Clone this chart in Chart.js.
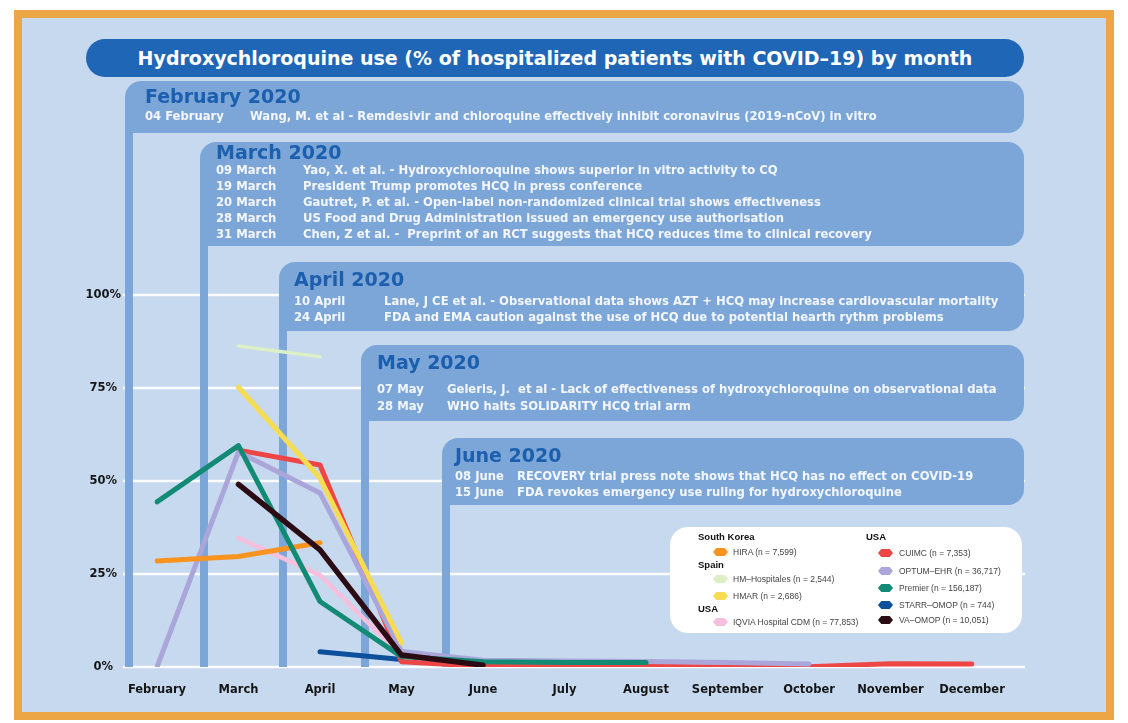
<!DOCTYPE html>
<html>
<head>
<meta charset="utf-8">
<script src="https://cdn.jsdelivr.net/npm/chart.js@4"></script>
<style>
  html, body { margin: 0; padding: 0; background: #fff; }
  #frame { position: absolute; left: 14px; top: 10px; width: 1100px; height: 710px; box-sizing: border-box;
           border: 8px solid #eca645; background: #c6d9ef; }
  #title { position: absolute; left: 86px; top: 39px; width: 938px; height: 38px; border-radius: 19px;
           background: #1f66b6; color: #fff; font: bold 19px "DejaVu Sans", sans-serif;
           text-align: center; line-height: 38px; white-space: nowrap; }
  #chart { position: absolute; left: 0; top: 0; }
  #legend { position: absolute; left: 670px; top: 527px; width: 352px; height: 106px; background: #fff;
            border-radius: 18px; font-family: "Liberation Sans", Arial, sans-serif; }
  #legend .hdr { position: absolute; font-weight: bold; font-size: 9.5px; color: #111; line-height: 12px; white-space: nowrap; }
  #legend .item { position: absolute; font-size: 8.5px; color: #444; line-height: 12px; white-space: nowrap; }
  #legend .mk { position: absolute; width: 15px; height: 8px;
                clip-path: polygon(22% 0, 78% 0, 100% 50%, 78% 100%, 22% 100%, 0 50%); }
</style>
</head>
<body>
<div id="frame"></div>
<div id="title">Hydroxychloroquine use (% of hospitalized patients with COVID–19) by month</div>
<canvas id="chart" width="1128" height="723"></canvas>
<div id="legend"></div>
<script>
// Months on the x axis
const months = ['February', 'March', 'April', 'May', 'June', 'July', 'August',
                'September', 'October', 'November', 'December'];
const yTicks = [0, 25, 50, 75, 100];

// Hydroxychloroquine use, % of hospitalized COVID-19 patients, per database (Feb..Dec)
const hira        = [28.5, 29.7, 33.4, null, null, null, null, null, null, null, null];
const hmHosp      = [null, 86.3, 83.4, null, null, null, null, null, null, null, null];
const hmar        = [null, 75.2, 50.8, 6.5, null, null, null, null, null, null, null];
const iqvia       = [null, 34.7, 24.7, 3.0, null, null, null, null, null, null, null];
const cuimc       = [null, 58.3, 54.3, 1.4, 0.2, 0.1, 0.2, 0.0, 0.1, 0.9, 0.8];
const optum       = [0.0, 57.8, 46.8, 4.2, 1.8, 1.6, 1.5, 1.2, 0.8, null, null];
const premier     = [44.4, 59.5, 17.6, 2.8, 1.4, 1.2, 1.2, null, null, null, null];
const starr       = [null, null, 4.1, 2.0, null, null, null, null, null, null, null];
const vaOmop      = [null, 49.1, 31.5, 3.2, 0.5, null, null, null, null, null, null];

const seriesNames = ['HIRA (n = 7,599)', 'HM–Hospitales (n = 2,544)', 'HMAR (n = 2,686)',
                     'IQVIA Hospital CDM (n = 77,853)', 'CUIMC (n = 7,353)', 'OPTUM–EHR (n = 36,717)',
                     'Premier (n = 156,187)', 'STARR–OMOP (n = 744)', 'VA–OMOP (n = 10,051)'];
const seriesValues = [hira, hmHosp, hmar, iqvia, cuimc, optum, premier, starr, vaOmop];
const seriesColors = ['#f7931e', '#dcefc6', '#f6dc52', '#f6bfdd', '#ee4545', '#aaa6da', '#128a74', '#0b4f9d', '#2b0b14'];
const seriesWidths = [5, 3.5, 5, 4.5, 5, 5, 5, 5, 5.5];
const seriesLayer  = [4, 8, 2, 7, 6, 5, 3, 9, 1];   // lower = drawn on top

// Legend grouping by country: [column, heading, series indices]
const legendGroups = [
  [0, 'South Korea', [0]],
  [0, 'Spain', [1, 2]],
  [0, 'USA', [3]],
  [1, 'USA', [4, 5, 6, 7, 8]]
];

// Timeline of key events
const eventHeads = ['February 2020', 'March 2020', 'April 2020', 'May 2020', 'June 2020'];
const eventDates = [
  ['04 February'],
  ['09 March', '19 March', '20 March', '28 March', '31 March'],
  ['10 April', '24 April'],
  ['07 May', '28 May'],
  ['08 June', '15 June']
];
const eventTexts = [
  ['Wang, M. et al - Remdesivir and chloroquine effectively inhibit coronavirus (2019-nCoV) in vitro'],
  ['Yao, X. et al. - Hydroxychloroquine shows superior in vitro activity to CQ',
   'President Trump promotes HCQ in press conference',
   'Gautret, P. et al. - Open-label non-randomized clinical trial shows effectiveness',
   'US Food and Drug Administration issued an emergency use authorisation',
   'Chen, Z et al. -  Preprint of an RCT suggests that HCQ reduces time to clinical recovery'],
  ['Lane, J CE et al. - Observational data shows AZT + HCQ may increase cardiovascular mortality',
   'FDA and EMA caution against the use of HCQ due to potential hearth rythm problems'],
  ['Geleris, J.  et al - Lack of effectiveness of hydroxychloroquine on observational data',
   'WHO halts SOLIDARITY HCQ trial arm'],
  ['RECOVERY trial press note shows that HCQ has no effect on COVID-19',
   'FDA revokes emergency use ruling for hydroxychloroquine']
];

// Placement of each event panel
const panelLayout = [
  { x: 125, top: 81,  bottom: 133, dateX: 145, textX: 250, headY: 98,  lineY: [117] },
  { x: 200, top: 142, bottom: 246, dateX: 216, textX: 303, headY: 154, lineY: [171, 187, 203, 219, 235] },
  { x: 279, top: 262, bottom: 331, dateX: 294, textX: 384, headY: 281, lineY: [302, 318] },
  { x: 361, top: 345, bottom: 421, dateX: 377, textX: 447, headY: 364, lineY: [390, 407] },
  { x: 442, top: 438, bottom: 505, dateX: 455, textX: 517, headY: 457, lineY: [477, 493] }
];
const PANEL_RIGHT = 1024, GRID_LEFT = 123, GRID_RIGHT = 1025, BAR_W = 8, RADIUS = 16;

const backdrop = {
  id: 'backdrop',
  beforeDatasetsDraw(chart) {
    const ctx = chart.ctx, y = chart.scales.y;
    ctx.save();
    // white horizontal guides
    ctx.strokeStyle = 'rgba(255,255,255,0.9)';
    ctx.lineWidth = 2.5;
    yTicks.forEach(v => {
      const py = Math.round(y.getPixelForValue(v));
      ctx.beginPath(); ctx.moveTo(GRID_LEFT, py); ctx.lineTo(GRID_RIGHT, py); ctx.stroke();
    });
    const base = y.getPixelForValue(0);
    panelLayout.forEach((p, i) => {
      ctx.fillStyle = '#7da6d8';
      ctx.beginPath();
      ctx.roundRect(p.x, p.top, PANEL_RIGHT - p.x, p.bottom - p.top, [RADIUS, RADIUS, RADIUS, 0]);
      ctx.fill();
      ctx.fillRect(p.x, p.bottom - 1, BAR_W, base - p.bottom + 1);
      ctx.textBaseline = 'middle';
      ctx.textAlign = 'left';
      ctx.fillStyle = '#1b5fae';
      ctx.font = 'bold 19px "DejaVu Sans"';
      ctx.fillText(eventHeads[i], p.dateX, p.headY);
      ctx.fillStyle = '#f3f7fc';
      ctx.font = 'bold 11.6px "DejaVu Sans"';
      eventDates[i].forEach((d, k) => {
        ctx.fillText(d, p.dateX, p.lineY[k]);
        ctx.fillText(eventTexts[i][k], p.textX, p.lineY[k]);
      });
    });
    ctx.restore();
  }
};

const datasets = seriesValues.map((vals, i) => ({
  label: seriesNames[i],
  data: vals,
  borderColor: seriesColors[i],
  backgroundColor: seriesColors[i],
  borderWidth: seriesWidths[i],
  order: seriesLayer[i],
  pointRadius: 0,
  tension: 0,
  borderCapStyle: 'round',
  borderJoinStyle: 'round',
  spanGaps: false
}));

const axisFont = { family: 'DejaVu Sans', weight: 'bold', size: 11.5 };

new Chart(document.getElementById('chart'), {
  type: 'line',
  data: { labels: months, datasets },
  options: {
    responsive: false,
    animation: false,
    layout: { padding: { left: 37, right: 156, top: 295, bottom: 16 } },
    plugins: { legend: { display: false }, tooltip: { enabled: false }, title: { display: false } },
    scales: {
      x: {
        type: 'category', offset: false,
        grid: { display: false, drawTicks: false }, border: { display: false },
        ticks: { font: axisFont, color: '#151515', padding: 16, autoSkip: false, maxRotation: 0 },
        afterFit(s) { s.height = 40; }
      },
      y: {
        min: 0, max: 100,
        grid: { display: false, drawTicks: false }, border: { display: false },
        ticks: { stepSize: 25, font: axisFont, color: '#151515', padding: 36, crossAlign: 'center',
                 callback: v => v + '%' },
        afterBuildTicks(s) { s.ticks = yTicks.map(v => ({ value: v })); },
        afterFit(s) { s.width = 120; }
      }
    }
  },
  plugins: [backdrop]
});

// Grouped legend
const legendRows = [
  [537, 552, 565, 579, 596, 609, 622],
  [537, 553, 571, 588, 605, 620]
];
const colX = [{ hdr: 28, mk: 43, txt: 63 }, { hdr: 196, mk: 208, txt: 229 }];
const legendEl = document.getElementById('legend');
const rowIdx = [0, 0];
legendGroups.forEach(([col, heading, idxs]) => {
  const c = colX[col];
  const hy = legendRows[col][rowIdx[col]++] - 527;
  const h = document.createElement('div');
  h.className = 'hdr'; h.textContent = heading;
  h.style.left = c.hdr + 'px'; h.style.top = (hy - 6) + 'px';
  legendEl.appendChild(h);
  idxs.forEach(si => {
    const ry = legendRows[col][rowIdx[col]++] - 527;
    const m = document.createElement('div');
    m.className = 'mk'; m.style.background = seriesColors[si];
    m.style.left = c.mk + 'px'; m.style.top = (ry - 4) + 'px';
    legendEl.appendChild(m);
    const t = document.createElement('div');
    t.className = 'item'; t.textContent = seriesNames[si];
    t.style.left = c.txt + 'px'; t.style.top = (ry - 6) + 'px';
    legendEl.appendChild(t);
  });
});
</script>
</body>
</html>
